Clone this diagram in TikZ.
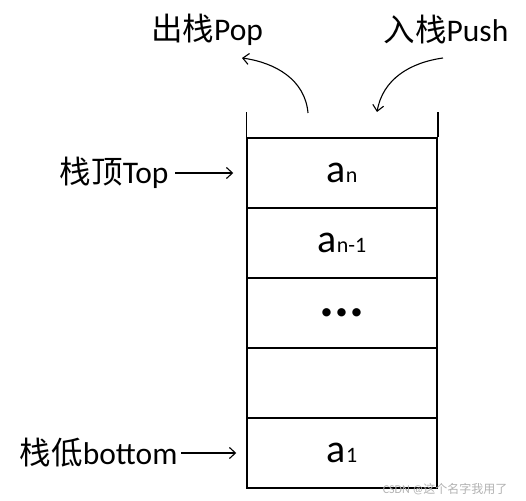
\documentclass[tikz,border=0pt]{standalone}
\usepackage{fontspec}
\setmainfont{Carlito}
\newfontfamily\cjk{Noto Sans CJK SC}
\usetikzlibrary{arrows.meta}

\begin{document}
\begin{tikzpicture}[x=1pt,y=1pt,
	cell/.style={draw,line width=1.5pt,minimum width=190pt,minimum height=70pt,inner sep=0pt},
	lbl/.style={font=\fontsize{31.5}{35}\selectfont},
	elem/.style={font=\fontsize{40}{42}\selectfont},
	arr/.style={-{Straight Barb[length=6pt,width=11pt]},line width=1.1pt}]
		%%%%% START %%%%%
		\useasboundingbox (0,0) rectangle (526,500);
		
		% stack cells
		\node[cell] (cn) at (342,327) {};
		\node[cell] (cm) at (342,257) {};
		\node[cell] (cd) at (342,187) {};
		\node[cell] (ce) at (342,117) {};
		\node[cell] (c1) at (342,47) {};
		\draw[line width=1.5pt] (cn.north west) -- ++(0,25);
		\draw[line width=1.5pt] (cn.north east) -- ++(0,25);
		
		% elements
		\node[elem] (an) at (cn) {a{\fontsize{22}{24}\selectfont n}};
		\node[elem] (am) at (cm) {a{\fontsize{22}{24}\selectfont n-1}};
		\node[elem] (dots) at (cd) {\fontsize{56}{58}\selectfont\textbf{...}};
		\node[elem] (a1) at (c1) {a{\fontsize{22}{24}\selectfont 1}};
		
		% labels
		\node[lbl] (pop) at (207,470) {{\cjk 出栈}Pop};
		\node[lbl] (push) at (446,470) {{\cjk 入栈}Push};
		\node[lbl,anchor=east] (top) at (172,327) {{\cjk 栈顶}Top};
		\node[lbl,anchor=east] (bottom) at (181,47) {{\cjk 栈低}bottom};
		
		\draw[arr,shorten <=3pt,shorten >=13pt] (top.east) -- (cn.west);
		\draw[arr,shorten >=10pt] (bottom.east) -- (c1.west);
		
		% pop / push
		\coordinate (popfrom) at (308,387);
		\coordinate (popto) at (242,442);
		\coordinate (pushfrom) at (443,442);
		\coordinate (pushto) at (377,388);
		\draw[arr] (popfrom) to[out=95,in=-8] (popto);
		\draw[arr] (pushfrom) to[out=188,in=80] (pushto);
		
		\node[text=black!30,font=\fontsize{12}{14}\selectfont] (mark) at (445,11) {CSDN @{\cjk 这个名字我用了}};
		%%%%% END %%%%%
	\end{tikzpicture}
\end{document}
